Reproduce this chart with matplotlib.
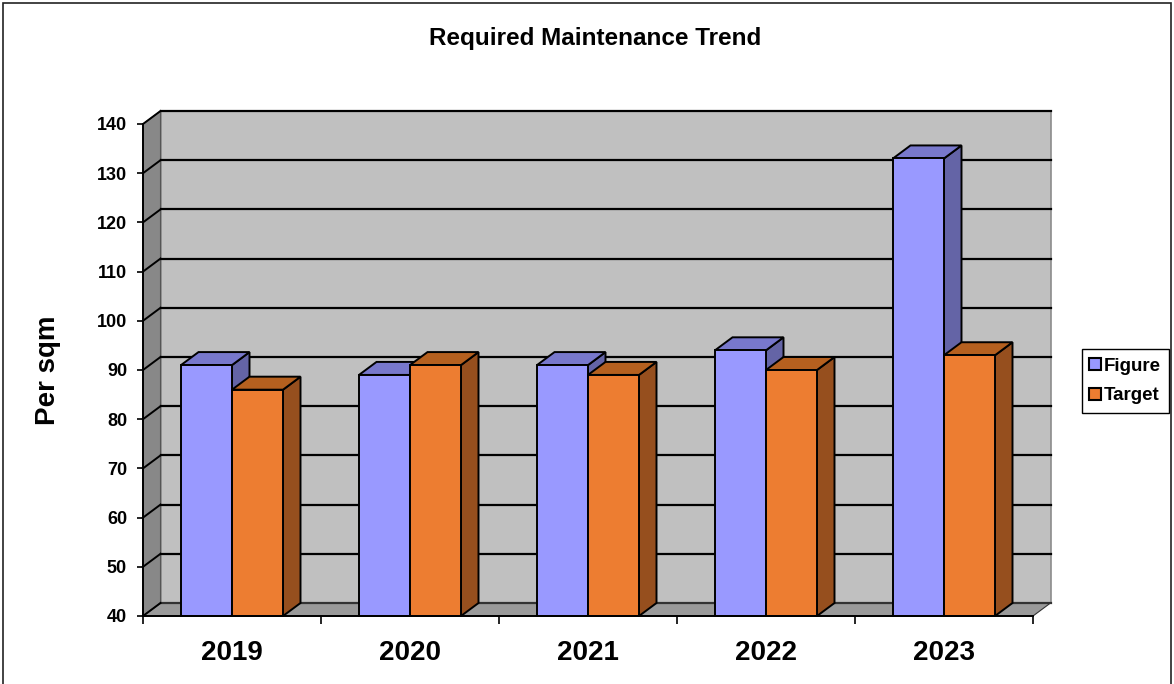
import matplotlib.pyplot as plt
import matplotlib.patches as mpatches
from matplotlib.lines import Line2D

plt.rcParams['font.family'] = ['Liberation Sans', 'DejaVu Sans']

years = ['2019', '2020', '2021', '2022', '2023']
figure_vals = [91, 89, 91, 94, 133]
target_vals = [86, 91, 89, 90, 93]
y_ticks = [40, 50, 60, 70, 80, 90, 100, 110, 120, 130, 140]

# face colours for the pseudo-3D columns: (front, top, side)
fig_colors = ('#9999FF', '#7878CC', '#6464A6')
tgt_colors = ('#ED7D31', '#B5601F', '#964F1E')

W, H = 1174, 684
fig = plt.figure(figsize=(W / 100, H / 100), dpi=100)
ax = fig.add_axes([143 / W, 68 / H, 890 / W, 492 / H])

ymin, ymax = y_ticks[0], y_ticks[-1]
xmin, xmax = -0.5, len(years) - 0.5
ax.set_xlim(xmin, xmax)
ax.set_ylim(ymin, ymax)

# depth offset of the 3D box (category units / value units)
dx = 17.5 / 178
dy = 13 / 4.92
bar_w = 51 / 178

# walls and floor
back = mpatches.Rectangle((xmin + dx, ymin + dy), xmax - xmin, ymax - ymin,
                          facecolor='#C0C0C0', edgecolor='#8C8C8C', lw=1.2,
                          clip_on=False, zorder=0)
ax.add_patch(back)
side = mpatches.Polygon([(xmin, ymin), (xmin + dx, ymin + dy), (xmin + dx, ymax + dy), (xmin, ymax)],
                        closed=True, facecolor='#888888', edgecolor='#555555', lw=0.8,
                        clip_on=False, zorder=0.5)
ax.add_patch(side)
floor = mpatches.Polygon([(xmin, ymin), (xmax, ymin), (xmax + dx, ymin + dy), (xmin + dx, ymin + dy)],
                         closed=True, facecolor='#9A9A9A', edgecolor='#333333', lw=0.8,
                         clip_on=False, zorder=0.5)
ax.add_patch(floor)

# gridlines on back wall and side wall
for v in y_ticks:
    col = '#333333' if v == ymin else 'black'
    ax.plot([xmin + dx, xmax + dx], [v + dy, v + dy], color=col, lw=1.6,
            clip_on=False, zorder=0.8)
    ax.plot([xmin, xmin + dx], [v, v + dy], color='black', lw=1.4,
            clip_on=False, zorder=0.8)


def draw_column(x0, val, colors, z):
    x1 = x0 + bar_w
    front = mpatches.Rectangle((x0, ymin), bar_w, val - ymin, facecolor=colors[0],
                               edgecolor='black', lw=1.4, clip_on=False, zorder=z)
    top = mpatches.Polygon([(x0, val), (x1, val), (x1 + dx, val + dy), (x0 + dx, val + dy)],
                           closed=True, facecolor=colors[1], edgecolor='black', lw=1.4,
                           clip_on=False, zorder=z)
    rside = mpatches.Polygon([(x1, ymin), (x1, val), (x1 + dx, val + dy), (x1 + dx, ymin + dy)],
                             closed=True, facecolor=colors[2], edgecolor='black', lw=1.4,
                             clip_on=False, zorder=z)
    for p in (rside, top, front):
        ax.add_patch(p)


z = 2
for i in range(len(years)):
    draw_column(i - bar_w, figure_vals[i], fig_colors, z)
    draw_column(i, target_vals[i], tgt_colors, z + 1)
    z += 2

# axes styling
for s in ('top', 'right'):
    ax.spines[s].set_visible(False)
ax.spines['left'].set_linewidth(1.4)
ax.spines['bottom'].set_linewidth(1.4)
ax.spines['left'].set_zorder(20)
ax.spines['bottom'].set_zorder(20)
ax.set_facecolor('none')

ax.set_yticks(y_ticks)
ax.set_yticklabels([str(v) for v in y_ticks], fontsize=13, fontweight='bold')
ax.tick_params(axis='y', direction='out', length=4.5, width=1.2, pad=7)

ax.set_xticks([x + 0.5 for x in range(-1, len(years))])
ax.set_xticklabels([])
ax.tick_params(axis='x', which='major', direction='out', length=6, width=1.2)
ax.set_xticks(range(len(years)), minor=True)
ax.set_xticklabels(years, minor=True, fontsize=20, fontweight='bold')
ax.tick_params(axis='x', which='minor', length=0, pad=17)

ax.set_ylabel('Per sqm', fontsize=20, fontweight='bold', labelpad=26)

fig.text(595 / W, 1 - 38 / H, 'Required Maintenance Trend', ha='center', va='center',
         fontsize=17.5, fontweight='bold')

handles = [Line2D([], [], marker='s', ls='none', markersize=8, markerfacecolor=fig_colors[0],
                  markeredgecolor='black', markeredgewidth=1.5, label='Figure'),
           Line2D([], [], marker='s', ls='none', markersize=8, markerfacecolor=tgt_colors[0],
                  markeredgecolor='black', markeredgewidth=1.5, label='Target')]
leg = fig.legend(handles=handles, loc='center left', bbox_to_anchor=(1082 / W, 1 - 381 / H),
                 frameon=True, fancybox=False, edgecolor='black', framealpha=1,
                 prop={'size': 13.5, 'weight': 'bold'}, handlelength=0.5, handletextpad=0.2,
                 borderpad=0.45, labelspacing=0.65, borderaxespad=0)
leg.get_frame().set_linewidth(1.0)

# chart border
fig.add_artist(mpatches.Rectangle((2.5 / W, -0.02), 1168.5 / W, 1.02 - 3 / H,
                                  transform=fig.transFigure, fill=False,
                                  edgecolor='#222222', lw=1.2))

fig.savefig('out.png', dpi=100)
